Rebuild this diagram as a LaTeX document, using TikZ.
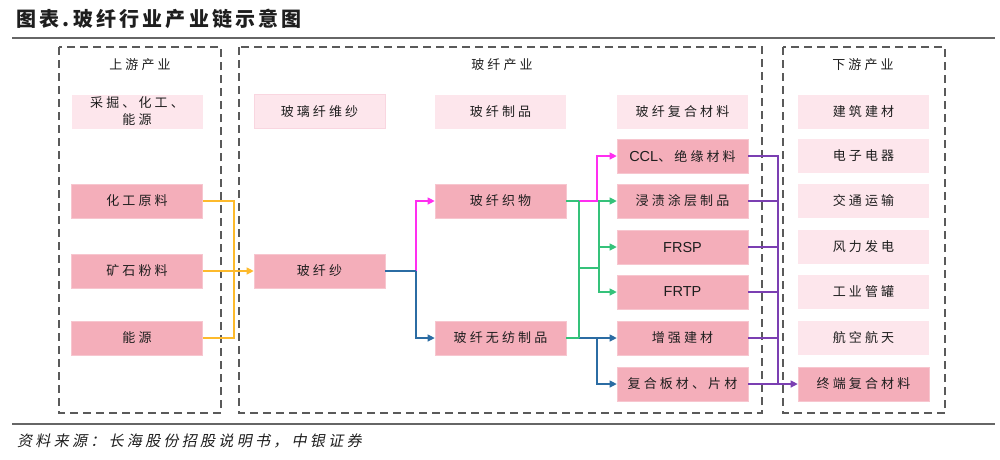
\documentclass[tikz,border=0pt]{standalone}
\usepackage{fontspec}
\usetikzlibrary{arrows.meta}
\newfontfamily\cjk[LetterSpace=24]{Noto Sans CJK SC}
\newfontfamily\cjkt[LetterSpace=16]{Noto Sans CJK SC}
\newfontfamily\cjki[FakeSlant=0.2,LetterSpace=22]{Noto Sans CJK SC}
\newfontfamily\lat{Liberation Sans}
\newcommand{\la}[1]{{\lat\fontsize{14.5}{17}\selectfont #1}}
\definecolor{dpink}{HTML}{F4AEBA}
\definecolor{dpinkb}{HTML}{F7C6CF}
\definecolor{lpink}{HTML}{FDE6EC}
\definecolor{lpinkb}{HTML}{F9D6E0}
\definecolor{cOrg}{HTML}{FDBA2C}
\definecolor{cMag}{HTML}{FF2EF0}
\definecolor{cBlu}{HTML}{2B6CA3}
\definecolor{cGrn}{HTML}{35C27A}
\definecolor{cPur}{HTML}{7B3FB2}
\definecolor{dashc}{HTML}{5A5A5A}
\definecolor{txt}{HTML}{1E1E1E}
\tikzset{
  box/.style={minimum width=131pt,minimum height=34pt,inner sep=0pt,align=center,
    font=\cjk\fontsize{13}{17}\selectfont,text=txt},
  dbox/.style={box,fill=dpink,draw=dpinkb,line width=0.6pt},
  lbox/.style={box,fill=lpink,draw=lpinkb,line width=0.4pt},
  hdr/.style={font=\cjk\fontsize{13}{16}\selectfont,text=txt,inner sep=0pt},
  panel/.style={draw=dashc,line width=1.2pt,dash pattern=on 8pt off 5pt},
  conn/.style={line width=1.1pt},
  arr/.style={-{Triangle[length=7pt,width=7pt]}},
  org/.style={conn,draw=cOrg,color=cOrg},
  mag/.style={conn,draw=cMag,color=cMag},
  blu/.style={conn,draw=cBlu,color=cBlu},
  grn/.style={conn,draw=cGrn,color=cGrn},
  pur/.style={conn,draw=cPur,color=cPur},
  rule/.style={draw=black!60,line width=1.2pt}
}
\begin{document}
\begin{tikzpicture}[x=1pt,y=-1pt]
\useasboundingbox (0,0) rectangle (1000,459);
% title and rules
\node[anchor=west,inner sep=0pt,font=\cjkt\bfseries\fontsize{20}{23}\selectfont,text=txt] (title) at (16,19) {图表\,.\,玻纤行业产业链示意图};
\coordinate (r1a) at (12,38); \coordinate (r1b) at (995,38);
\coordinate (r2a) at (12,424); \coordinate (r2b) at (995,424);
\draw[rule] (r1a) -- (r1b);
\draw[rule] (r2a) -- (r2b);
\node[anchor=west,inner sep=0pt,font=\cjki\fontsize{15}{18}\selectfont,text=txt] (src) at (17,441) {资料来源：长海股份招股说明书，中银证券};
% panels
\draw[panel] (59,47) rectangle (221,413);
\draw[panel] (239,47) rectangle (762,413);
\draw[panel] (783,47) rectangle (945,413);
\node[hdr] (h1) at (140,65) {上游产业};
\node[hdr] (h2) at (502,65) {玻纤产业};
\node[hdr] (h3) at (863,65) {下游产业};
% left column
\node[lbox,draw=none] (cj) at (137,111.5) {采掘、化工、\\能源};
\node[dbox] (hg) at (137,201) {化工原料};
\node[dbox] (ks) at (137,271) {矿石粉料};
\node[dbox] (ny) at (137,338) {能源};
% middle
\node[lbox] (bl) at (319.5,111.5) {玻璃纤维纱};
\node[dbox] (bxs) at (319.5,271) {玻纤纱};
\node[lbox,draw=none] (zp) at (500.5,111.5) {玻纤制品};
\node[dbox] (zw) at (500.5,201) {玻纤织物};
\node[dbox] (wf) at (500.5,338) {玻纤无纺制品};
\node[lbox,draw=none] (fc) at (682.5,111.5) {玻纤复合材料};
\node[dbox] (ccl) at (682.5,156) {\la{CCL}、绝缘材料};
\node[dbox] (jz) at (682.5,201) {浸渍涂层制品};
\node[dbox] (frsp) at (682.5,247) {\la{FRSP}};
\node[dbox] (frtp) at (682.5,292) {\la{FRTP}};
\node[dbox] (zq) at (682.5,338) {增强建材};
\node[dbox] (fh) at (682.5,384) {复合板材、片材};
% right
\node[lbox,draw=none] (jj) at (863.5,111.5) {建筑建材};
\node[lbox,draw=none] (dz) at (863.5,156) {电子电器};
\node[lbox,draw=none] (jt) at (863.5,201) {交通运输};
\node[lbox,draw=none] (fl) at (863.5,247) {风力发电};
\node[lbox,draw=none] (gy) at (863.5,292) {工业管罐};
\node[lbox,draw=none] (hk) at (863.5,338) {航空航天};
\node[dbox] (zd) at (863.5,384) {终端复合材料};
% orange connectors
\coordinate (jo) at (234,271);
\draw[org] (hg.east) -| (jo);
\draw[org] (ny.east) -| (jo);
\draw[org,arr] (ks.east) -- (bxs.west);
% from yarn
\coordinate (j1) at (416,271);
\draw[mag,arr] (j1) |- (zw.west);
\draw[blu,arr] (j1) |- (wf.west);
\draw[blu] (bxs.east) -- (j1);
% green
\coordinate (j2a) at (579,201);
\coordinate (j2b) at (579,338);
\coordinate (j2m) at (579,268);
\coordinate (j3) at (599,268);
\coordinate (j4) at (597,201);
\coordinate (j5) at (597,338);
\draw[grn,arr] (j3) |- (jz.west);
\draw[grn,arr] (j3) |- (frsp.west);
\draw[grn,arr] (j3) |- (frtp.west);
\draw[mag,arr] (j2a) -- (j4) |- (ccl.west);
\draw[blu,arr] (j2b) -- (zq.west);
\draw[blu,arr] (j5) |- (fh.west);
\draw[grn] (zw.east) -- (j2a);
\draw[grn] (wf.east) -- (j2b);
\draw[grn] (j2a) -- (j2b);
\draw[grn] (j2m) -- (j3);
% purple
\coordinate (jp) at (778,384);
\coordinate (jpt) at (778,156);
\draw[pur] (ccl.east) -- (jpt) -- (jp);
\draw[pur] (jz.east) -- (jz.east -| jp);
\draw[pur] (frsp.east) -- (frsp.east -| jp);
\draw[pur] (frtp.east) -- (frtp.east -| jp);
\draw[pur] (zq.east) -- (zq.east -| jp);
\draw[pur,arr] (fh.east) -- (zd.west);
\end{tikzpicture}
\end{document}
